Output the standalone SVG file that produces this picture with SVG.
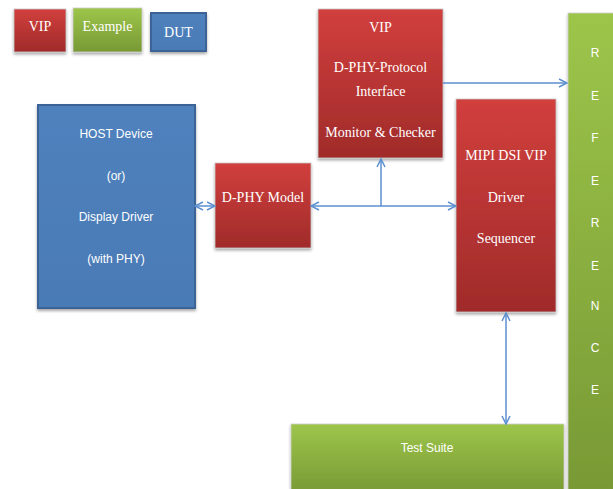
<svg xmlns="http://www.w3.org/2000/svg" width="613" height="489" viewBox="0 0 613 489">
<defs>
<linearGradient id="gRed" x1="0" y1="0" x2="0" y2="1"><stop offset="0" stop-color="#d13f3d"/><stop offset="1" stop-color="#a02b2a"/></linearGradient>
<linearGradient id="gGreen" x1="0" y1="0" x2="0" y2="1"><stop offset="0" stop-color="#9dc54a"/><stop offset="1" stop-color="#789935"/></linearGradient>
<linearGradient id="gBlue" x1="0" y1="0" x2="0" y2="1"><stop offset="0" stop-color="#4f81bd"/><stop offset="1" stop-color="#4a7bb6"/></linearGradient>
<filter id="sh" x="-10%" y="-10%" width="130%" height="130%"><feGaussianBlur in="SourceAlpha" stdDeviation="1.5"/><feOffset dx="0" dy="2" result="b"/><feComponentTransfer><feFuncA type="linear" slope="0.35"/></feComponentTransfer><feMerge><feMergeNode/><feMergeNode in="SourceGraphic"/></feMerge></filter>
<marker id="ah" viewBox="0 0 10 10" refX="9" refY="5" markerWidth="10" markerHeight="10" markerUnits="userSpaceOnUse" orient="auto-start-reverse"><path d="M1,1 L9,5 L1,9" fill="none" stroke="#5b8fd0" stroke-width="1.5"/></marker>
<style>
.red{fill:url(#gRed);stroke:#c9c9c9;stroke-width:0.8;filter:url(#sh)}
.green{fill:url(#gGreen);stroke:#d0d0d0;stroke-width:0.8;filter:url(#sh)}
.blue{fill:url(#gBlue);stroke:#3a6496;stroke-width:2;filter:url(#sh)}
.ts{font-family:"Liberation Serif","Times New Roman",serif;font-size:14px;fill:#fff;text-anchor:middle}
.tn{font-family:"Liberation Sans",Arial,sans-serif;font-size:12px;fill:#fff;text-anchor:middle}
.c{fill:none;stroke:#5b8fd0;stroke-width:1.5}
</style>
</defs>
<g id="legend-vip"><rect class="red" x="14" y="9" width="52" height="43"/><text class="ts" x="40" y="31">VIP</text></g>
<g id="legend-example"><rect class="green" x="73" y="8" width="69" height="44"/><text class="ts" x="107.5" y="31">Example</text></g>
<g id="legend-dut"><rect class="blue" x="151" y="13" width="55" height="38"/><text class="ts" x="178.5" y="37">DUT</text></g>

<g id="monitor"><rect class="red" x="318" y="9" width="125" height="149"/>
<text class="ts" x="380.5" y="32">VIP</text>
<text class="ts" x="380.5" y="72">D-PHY-Protocol</text>
<text class="ts" x="380.5" y="96">Interface</text>
<text class="ts" x="380.5" y="137">Monitor &amp; Checker</text></g>

<g id="reference"><rect class="green" x="568" y="13" width="48" height="480"/>
<text class="tn" x="595" y="57">R</text>
<text class="tn" x="595" y="100">E</text>
<text class="tn" x="595" y="142">F</text>
<text class="tn" x="595" y="185">E</text>
<text class="tn" x="595" y="227">R</text>
<text class="tn" x="595" y="270">E</text>
<text class="tn" x="595" y="310">N</text>
<text class="tn" x="595" y="352">C</text>
<text class="tn" x="595" y="394">E</text></g>

<g id="mipi"><rect class="red" x="456" y="99" width="100" height="213"/>
<text class="ts" x="506" y="160">MIPI DSI VIP</text>
<text class="ts" x="506" y="202">Driver</text>
<text class="ts" x="506" y="243">Sequencer</text></g>

<g id="host"><rect class="blue" x="38" y="105" width="157" height="203"/>
<text class="tn" x="116" y="138">HOST Device</text>
<text class="tn" x="116" y="180">(or)</text>
<text class="tn" x="116" y="221">Display Driver</text>
<text class="tn" x="116" y="263">(with PHY)</text></g>

<g id="dphy"><rect class="red" x="215" y="163" width="96" height="85"/>
<text class="ts" x="263" y="202">D-PHY Model</text></g>

<g id="testsuite"><rect class="green" x="291" y="424" width="273" height="70"/>
<text class="tn" x="427" y="452">Test Suite</text></g>

<g id="connectors">
<line class="c" x1="195" y1="206" x2="215" y2="206" marker-start="url(#ah)" marker-end="url(#ah)"/>
<line class="c" x1="311" y1="206" x2="456" y2="206" marker-start="url(#ah)" marker-end="url(#ah)"/>
<line class="c" x1="381" y1="206" x2="381" y2="159" marker-end="url(#ah)"/>
<line class="c" x1="443" y1="83" x2="567" y2="83" marker-end="url(#ah)"/>
<line class="c" x1="506" y1="313" x2="506" y2="424" marker-start="url(#ah)" marker-end="url(#ah)"/>
</g>
</svg>
